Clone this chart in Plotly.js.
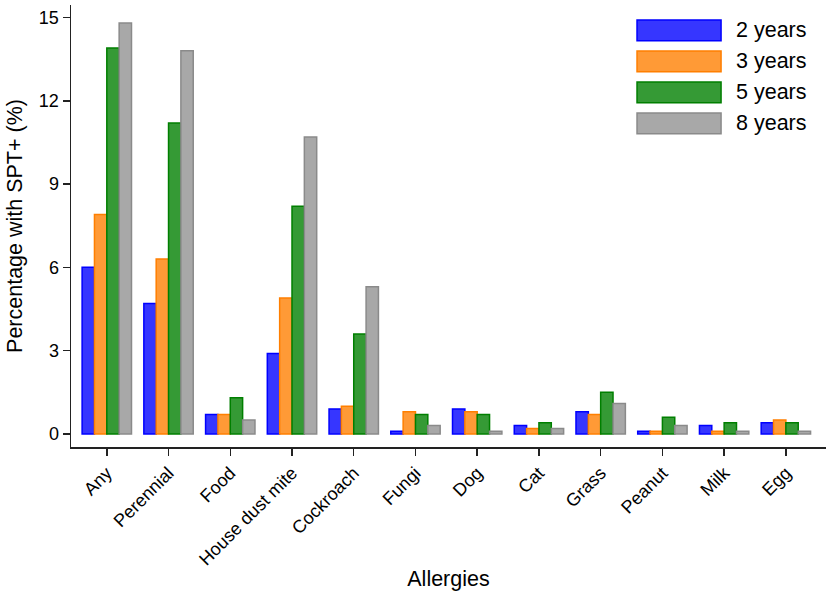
<!DOCTYPE html>
<html>
<head>
<meta charset="utf-8">
<script src="https://cdn.plot.ly/plotly-3.0.1.min.js"></script>
<style>
  html, body { margin: 0; padding: 0; background: #fff; }
  #chart { width: 829px; height: 591px; }
</style>
</head>
<body>
<div id="chart"></div>
<script>
const allergies = ['Any', 'Perennial', 'Food', 'House dust mite', 'Cockroach', 'Fungi',
  'Dog', 'Cat', 'Grass', 'Peanut', 'Milk', 'Egg'];

const seriesNames = ['2 years', '3 years', '5 years', '8 years'];

const years2 = [6.0, 4.7, 0.7, 2.9, 0.9, 0.1, 0.9, 0.3, 0.8, 0.1, 0.3, 0.4];
const years3 = [7.9, 6.3, 0.7, 4.9, 1.0, 0.8, 0.8, 0.2, 0.7, 0.1, 0.1, 0.5];
const years5 = [13.9, 11.2, 1.3, 8.2, 3.6, 0.7, 0.7, 0.4, 1.5, 0.6, 0.4, 0.4];
const years8 = [14.8, 13.8, 0.5, 10.7, 5.3, 0.3, 0.1, 0.2, 1.1, 0.3, 0.1, 0.1];

const yTicks = [0, 3, 6, 9, 12, 15];

const fills = ['#3636ff', '#ff9a36', '#359a35', '#a8a8a8'];
const outlines = ['#0000ff', '#ff7f00', '#007f00', '#8a8a8a'];

const font = 'Liberation Sans, Arial, sans-serif';

const values = [years2, years3, years5, years8];

const traces = values.map((ys, i) => ({
  type: 'bar',
  name: seriesNames[i],
  x: allergies,
  y: ys,
  marker: {color: fills[i], line: {color: outlines[i], width: 1.5}},
  hoverinfo: 'skip',
}));

// legend drawn by hand so the swatches are wide boxes like the original
const shapes = [];
const annotations = [];
seriesNames.forEach((name, i) => {
  const top = 0.966 - i * 0.0701;
  shapes.push({
    type: 'rect', xref: 'paper', yref: 'paper',
    x0: 0.7497, x1: 0.861, y0: top - 0.047, y1: top,
    fillcolor: fills[i], line: {color: outlines[i], width: 1.5},
  });
  annotations.push({
    xref: 'paper', yref: 'paper', x: 0.878, y: top - 0.0235,
    xanchor: 'left', yanchor: 'middle', showarrow: false,
    text: name, font: {family: font, size: 21.5, color: '#000'},
  });
});

Plotly.newPlot('chart', traces, {
  width: 829,
  height: 591,
  margin: {l: 71, r: 3, t: 5, b: 144},
  paper_bgcolor: '#fff',
  plot_bgcolor: '#fff',
  barmode: 'group',
  bargap: 0.2,
  bargroupgap: 0,
  showlegend: false,
  font: {family: font, color: '#000'},
  xaxis: {
    range: [-0.58, 11.65],
    showline: true, linecolor: '#222', linewidth: 1.5,
    showgrid: false, zeroline: false,
    ticks: 'outside', ticklen: 7, tickwidth: 1.5, tickcolor: '#222',
    tickangle: -45,
    tickfont: {family: font, size: 18, color: '#000'},
    title: {text: 'Allergies', font: {family: font, size: 21.5, color: '#000'}, standoff: 12},
    automargin: false,
  },
  yaxis: {
    range: [-0.47, 15.45],
    tickvals: yTicks,
    showline: true, linecolor: '#222', linewidth: 1.5,
    showgrid: false, zeroline: false,
    ticks: 'outside', ticklen: 7, tickwidth: 1.5, tickcolor: '#222',
    tickfont: {family: font, size: 18, color: '#000'},
    title: {text: 'Percentage with SPT+ (%)', font: {family: font, size: 21.5, color: '#000'}, standoff: 10},
    automargin: false,
  },
  shapes,
  annotations,
}, {staticPlot: true});
</script>
</body>
</html>
